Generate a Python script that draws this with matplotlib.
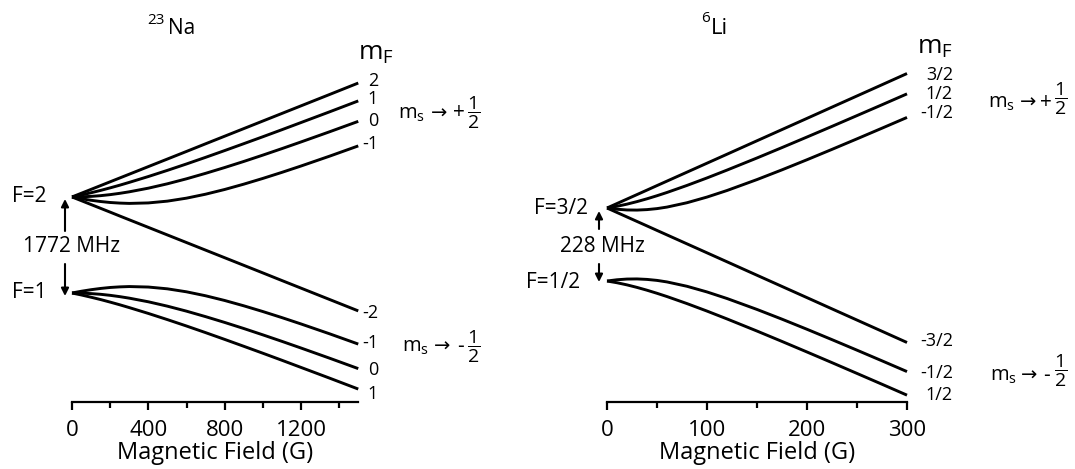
import matplotlib
matplotlib.use("Agg")
import matplotlib.pyplot as plt
from matplotlib.patches import FancyArrowPatch

plt.rcParams['font.family'] = ['Open Sans', 'DejaVu Sans']
plt.rcParams['mathtext.fontset'] = 'custom'
plt.rcParams['mathtext.rm'] = 'Open Sans'
plt.rcParams['mathtext.it'] = 'Open Sans'
plt.rcParams['mathtext.sf'] = 'Open Sans'

# ---- 23Na levels (MHz) ----
na_B = [0, 50, 100, 150, 200, 250, 300, 400, 500, 600, 700, 800, 900, 1000, 1100, 1200, 1350, 1500]
na_F2_p2 = [886, 956, 1026, 1096, 1166, 1236, 1306, 1446, 1586, 1726, 1867, 2007, 2147, 2287, 2427, 2567, 2777, 2988]
na_F2_p1 = [886, 923, 964, 1007, 1054, 1103, 1155, 1263, 1377, 1495, 1617, 1742, 1869, 1997, 2127, 2259, 2457, 2658]
na_F2_0 = [886, 889, 897, 910, 929, 953, 981, 1048, 1129, 1221, 1322, 1429, 1541, 1658, 1778, 1901, 2089, 2281]
na_F2_m1 = [886, 853, 825, 802, 784, 773, 767, 776, 809, 864, 937, 1024, 1122, 1228, 1340, 1457, 1639, 1828]
na_F2_m2 = [886, 816, 746, 676, 606, 535, 465, 325, 185, 45, -95, -235, -375, -515, -656, -796, -1006, -1216]
na_F1_m1 = [-886, -853, -825, -802, -784, -773, -767, -776, -809, -864, -937, -1024, -1122, -1228, -1340, -1457, -1639, -1828]
na_F1_0 = [-886, -889, -897, -910, -929, -953, -981, -1048, -1129, -1221, -1322, -1429, -1541, -1658, -1778, -1901, -2089, -2281]
na_F1_p1 = [-886, -923, -964, -1007, -1054, -1103, -1155, -1263, -1377, -1495, -1617, -1742, -1869, -1997, -2127, -2259, -2457, -2658]
na_ticks = [0, 400, 800, 1200]
na_minor = [200, 600, 1000, 1400]

# ---- 6Li levels (MHz) ----
li_B = [0, 10, 20, 30, 40, 50, 60, 80, 100, 120, 150, 175, 200, 225, 250, 275, 300]
li_up_p32 = [114.1, 128.1, 142.1, 156.1, 170.1, 184.2, 198.2, 226.2, 254.2, 282.2, 324.3, 359.3, 394.3, 429.4, 464.4, 499.4, 534.5]
li_up_p12 = [114.1, 119.5, 126.2, 134.1, 142.9, 152.5, 162.7, 184.7, 208.1, 232.6, 270.5, 303.0, 336.0, 369.3, 403.0, 436.8, 470.9]
li_up_m12 = [114.1, 110.2, 108.0, 107.6, 109.1, 112.2, 117.0, 130.6, 148.3, 168.8, 203.0, 233.4, 265.0, 297.4, 330.3, 363.6, 397.2]
li_up_m32 = [114.1, 100.1, 86.1, 72.1, 58.1, 44.0, 30.0, 2.0, -26.0, -54.0, -96.1, -131.1, -166.1, -201.2, -236.2, -271.2, -306.3]
li_lo_m12 = [-114.1, -110.2, -108.0, -107.6, -109.1, -112.2, -117.0, -130.6, -148.3, -168.8, -203.0, -233.4, -265.0, -297.4, -330.3, -363.6, -397.2]
li_lo_p12 = [-114.1, -119.5, -126.2, -134.1, -142.9, -152.5, -162.7, -184.7, -208.1, -232.6, -270.5, -303.0, -336.0, -369.3, -403.0, -436.8, -470.9]
li_ticks = [0, 100, 200, 300]
li_minor = [50, 150, 250]

W, H = 1075, 469
fig = plt.figure(figsize=(W / 100, H / 100), dpi=100)


def fxy(px, py):
    return px / W, 1 - py / H


def make_axes(left_px, width_px, xmax, ylim, ticks, minor):
    ax = fig.add_axes([left_px / W, (H - 402) / H, width_px / W, 402 / H])
    ax.set_xlim(0, xmax)
    ax.set_ylim(*ylim)
    for s in ['left', 'right', 'top']:
        ax.spines[s].set_visible(False)
    ax.spines['bottom'].set_linewidth(1.6)
    ax.set_yticks([])
    ax.set_xticks(ticks)
    ax.set_xticks(minor, minor=True)
    ax.tick_params(axis='x', which='major', length=6, width=1.6, labelsize=16, pad=7)
    ax.tick_params(axis='x', which='minor', length=4, width=1.6)
    ax.set_xlabel('Magnetic Field (G)', fontsize=17, labelpad=0)
    ax.patch.set_visible(False)
    return ax


ax1 = make_axes(72, 286.25, 1500, (-2897, 4520), na_ticks, na_minor)
for ys in [na_F2_p2, na_F2_p1, na_F2_0, na_F2_m1, na_F2_m2, na_F1_m1, na_F1_0, na_F1_p1]:
    ax1.plot(na_B, ys, color='k', lw=2.1, clip_on=False, solid_capstyle='butt')

ax2 = make_axes(607, 300, 300, (-492.3, 764.3), li_ticks, li_minor)
for ys in [li_up_p32, li_up_p12, li_up_m12, li_up_m32, li_lo_m12, li_lo_p12]:
    ax2.plot(li_B, ys, color='k', lw=2.1, clip_on=False, solid_capstyle='butt')


def label(px, py, s, size, ha='center', va='center', **kw):
    fig.text(*fxy(px, py), s, fontsize=size, ha=ha, va=va, **kw)


def arrow(px, y0, y1):
    fig.add_artist(FancyArrowPatch(
        fxy(px, y0), fxy(px, y1), transform=fig.transFigure,
        arrowstyle='-|>', mutation_scale=11, lw=1.5, color='k', shrinkA=0, shrinkB=0))


def ms_label(px, base_y, sign, arrow_x, sign_x, frac_x, frac_y):
    label(px, base_y, 'm$_s$', 14.5, ha='left', va='baseline')
    label(arrow_x, base_y - 6, '\u2192', 14, family='DejaVu Sans')
    label(sign_x, base_y - 6, sign, 15)
    label(frac_x, frac_y, r'$\dfrac{1}{2}$', 14)


# titles
label(156, 20, '23', 11)
label(168, 28, 'Na', 15, ha='left')
label(706, 19, '6', 11)
label(711, 28, 'Li', 16, ha='left')

# m_F headers
label(376, 53, r'$m_F$', 19)
label(935, 47, r'$m_F$', 19)

# Na m_F labels
for s, y in zip(['2', '1', '0', '-1'], [81, 99, 121, 144]):
    label(378, y, s, 13, ha='right')
for s, y in zip(['-2', '-1', '0', '1'], [313, 343, 370, 394]):
    label(378, y, s, 13, ha='right')

# Li m_F labels
for s, y in zip(['3/2', '1/2', '-1/2'], [75, 94, 113]):
    label(953, y, s, 13, ha='right')
for s, y in zip(['-3/2', '-1/2', '1/2'], [341, 373, 395]):
    label(953, y, s, 13, ha='right')

# m_s asymptotes
ms_label(398, 119, '+', 439, 459, 474, 113)
ms_label(402, 352, '-', 442, 461, 474, 347)
ms_label(988, 108, '+', 1028, 1046, 1061, 99)
ms_label(990, 381, '-', 1029, 1046, 1061, 371)

# hyperfine labels
label(12, 196, 'F=2', 15, ha='left')
label(12, 293, 'F=1', 15, ha='left')
label(72, 247, '1772 MHz', 15)
arrow(65, 231, 199)
arrow(65, 264, 296)

label(588, 208, 'F=3/2', 15, ha='right')
label(580, 282, 'F=1/2', 15, ha='right')
label(602, 246, '228 MHz', 15)
arrow(599, 229, 211)
arrow(599, 264, 282)

fig.savefig('out.png', dpi=100)
